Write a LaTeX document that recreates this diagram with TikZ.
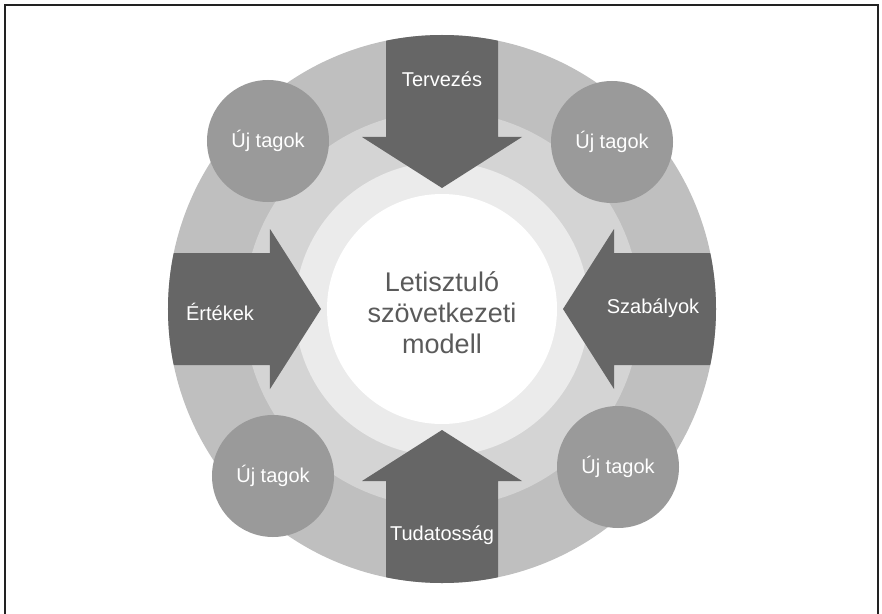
\documentclass[tikz,border=0pt]{standalone}
\usepackage{fontspec}
\setmainfont{Liberation Sans}
\usepackage{tikz}
\usetikzlibrary{arrows.meta}
\definecolor{ringout}{HTML}{BFBFBF}
\definecolor{ringmid}{HTML}{D4D4D4}
\definecolor{ringin}{HTML}{EBEBEB}
\definecolor{arrowfill}{HTML}{666666}
\definecolor{tagfill}{HTML}{9A9A9A}
\definecolor{hubtext}{HTML}{5A5A5A}
\definecolor{framecol}{HTML}{222222}
\tikzset{
  lbl/.style={text=white, font=\fontsize{20}{24}\selectfont, inner sep=0pt},
  tag/.style={circle, fill=tagfill, minimum size=122pt, inner sep=0pt, lbl},
  hub/.style={text=hubtext, align=center, font=\fontsize{27}{31}\selectfont}
}

\begin{document}
\begin{tikzpicture}[x=1pt,y=1pt]

  \useasboundingbox (-442,-304) rectangle (440,309);

  \draw[line width=2pt, framecol] (-436.5,-320) -- (-436.5,303.5) -- (436,303.5) -- (436,-320); %% frame

  \fill[ringout] (0,0) circle (274);
  \fill[ringmid] (0,0) circle (198);
  \fill[ringin] (0,0) circle (147);
  \fill[white] (0,0) circle (115);

  % the four arrows
  \begin{scope}
    \clip (0,0) circle (274);
    \foreach \a in {0,90,180,270} {
      \fill[arrowfill, rotate=\a] (300,56) -- (172,56) -- (172,80) -- (121,0)
        -- (172,-80) -- (172,-56) -- (300,-56) -- cycle;
    }
  \end{scope}

  \node[lbl] (terv) at (0,230) {Tervezés};
  \node[lbl] (szab) at (211,1) {Szabályok};
  \node[lbl] (tuda) at (0,-226) {Tudatosság};
  \node[lbl] (ertek) at (-222,-3) {Értékek};

  \node[tag] (tagNW) at (-174,168) {Új tagok};
  \node[tag] (tagNE) at (170,167) {Új tagok};
  \node[tag] (tagSW) at (-169,-167) {Új tagok};
  \node[tag] (tagSE) at (176,-158) {Új tagok};

  \node[hub] (modell) at (0,-4) {Letisztuló\\szövetkezeti\\modell};

\end{tikzpicture}
\end{document}
